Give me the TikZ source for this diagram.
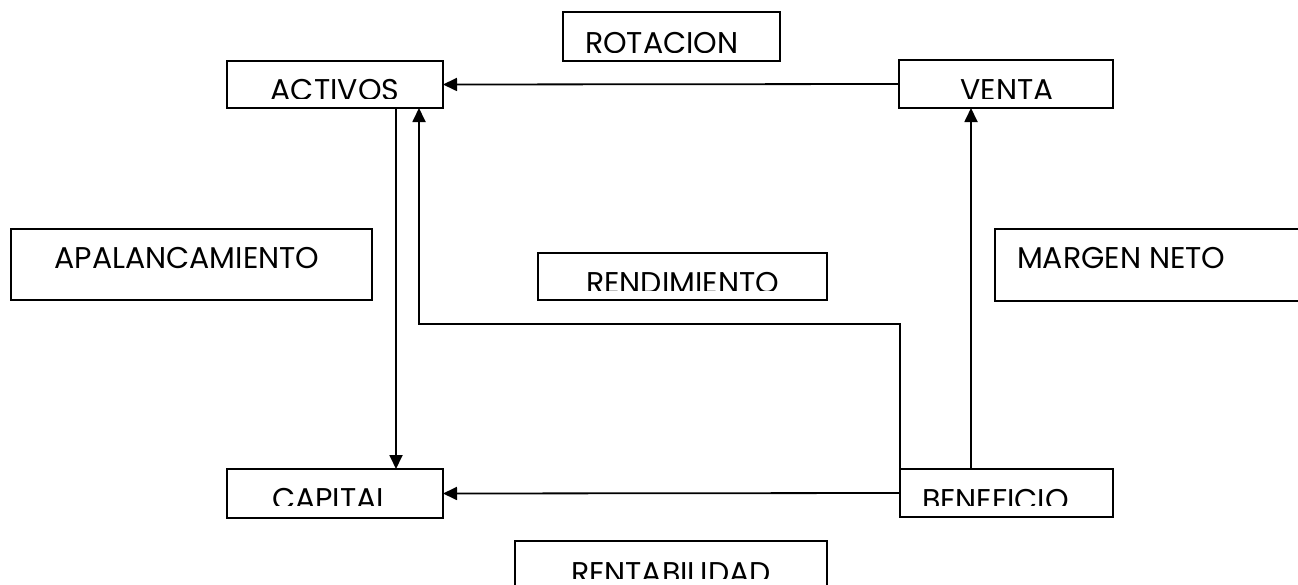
\documentclass[tikz,border=0pt]{standalone}
\usepackage{fontspec}
\setmainfont{Poppins}
\usetikzlibrary{arrows.meta}
\tikzset{
  box/.style={draw, line width=1.8pt, inner sep=0pt, outer sep=0pt},
  lbl/.style={inner sep=0pt, outer sep=0pt, font=\fontsize{30}{32}\selectfont},
  conn/.style={line width=1.8pt, -{Triangle[length=14pt,width=13pt]}},
}
\begin{document}
\begin{tikzpicture}[x=1pt,y=-1pt]
\clip (0,0) rectangle (1298,584);
\useasboundingbox (0,0) rectangle (1298,584);
% boxes
\node[box, minimum width=216pt, minimum height=47pt] (activos) at (335,84.5) {};
\node[box, minimum width=217pt, minimum height=49pt] (rotacion) at (671.5,36.5) {};
\node[box, minimum width=214pt, minimum height=48pt] (venta) at (1006,84) {};
\node[box, minimum width=361pt, minimum height=71pt] (apal) at (191.5,264.5) {};
\node[box, minimum width=289pt, minimum height=47pt] (rend) at (682.5,276.5) {};
\node[box, minimum width=315pt, minimum height=72pt] (margen) at (1152.5,265) {};
\node[box, minimum width=216pt, minimum height=49pt] (capital) at (335,493.5) {};
\node[box, minimum width=213pt, minimum height=48pt] (benef) at (1006.5,493) {};
\node[box, minimum width=312pt, minimum height=59pt] (rentab) at (671,570.5) {};
% labels (clipped at the bottom like the source)
\begin{scope}\clip (activos.north west) rectangle (443,98);
\node[lbl, anchor=base] (tactivos) at (335,100) {ACTIVOS};\end{scope}
\begin{scope}\clip (venta.north west) rectangle (1113,98);
\node[lbl, anchor=base] (tventa) at (1007,100) {VENTA};\end{scope}
\begin{scope}\clip (rotacion.north west) rectangle (780,52);
\node[lbl, anchor=base west] (trotacion) at (585,53) {ROTACION};\end{scope}
\begin{scope}\clip (capital.north west) rectangle (443,505);
\node[lbl, anchor=base] (tcapital) at (331,509) {CAPITAL};\end{scope}
\begin{scope}\clip (benef.north west) rectangle (1113,505);
\node[lbl, anchor=base west] (tbenef) at (922,510) {BENEFICIO};\end{scope}
\begin{scope}\clip (rend.north west) rectangle (827,290);
\node[lbl, anchor=base] (trend) at (682.5,293) {RENDIMIENTO};\end{scope}
\begin{scope}\clip (rentab.north west) rectangle (827,578);
\node[lbl, anchor=base] (trentab) at (671,583) {RENTABILIDAD};\end{scope}
\node[lbl, anchor=base] (tapal) at (187,268) {APALANCAMIENTO};
\node[lbl, anchor=base west] (tmargen) at (1017,268) {MARGEN NETO};
% connectors
\draw[conn] (venta.west) -- (activos.east);
\draw[conn] (activos.south -| 396,0) -- (capital.north -| 396,0);
\draw[conn] (benef.west) -- (capital.east);
\draw[conn] (benef.north -| 971,0) -- (venta.south -| 971,0);
\draw[conn] (benef.north west) -- (900,324) -- (419,324) -- (activos.south -| 419,0);
\end{tikzpicture}
\end{document}
